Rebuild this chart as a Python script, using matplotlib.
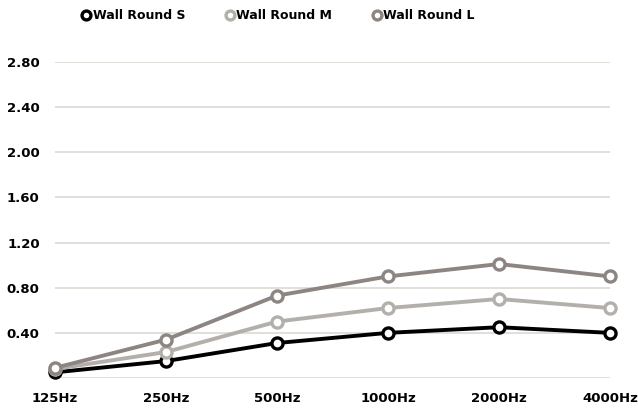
import matplotlib
matplotlib.use('Agg')
import matplotlib.pyplot as plt

# frequency bands and absorption values
freqs = ['125Hz', '250Hz', '500Hz', '1000Hz', '2000Hz', '4000Hz']
wall_s = [0.05, 0.15, 0.31, 0.40, 0.45, 0.40]
wall_m = [0.08, 0.23, 0.50, 0.62, 0.70, 0.62]
wall_l = [0.09, 0.34, 0.73, 0.90, 1.01, 0.90]
names = ['Wall Round S', 'Wall Round M', 'Wall Round L']
yticks = [0.40, 0.80, 1.20, 1.60, 2.00, 2.40, 2.80]

colors = ['#000000', '#b3afab', '#8d8582']

fig = plt.figure(figsize=(6.38, 4.08), dpi=100)
ax = fig.add_axes([55/638, 1-378/408, 555/638, (378-62)/408])

x = range(len(freqs))
for vals, c, name in zip([wall_s, wall_m, wall_l], colors, names):
    ax.plot(x, vals, color=c, lw=2.8, marker='o', ms=8, mfc='white',
            mec=c, mew=2.4, label=name, clip_on=False, zorder=3)

ax.set_xlim(0, len(freqs)-1)
ax.set_ylim(0, 2.8)
ax.set_yticks([0] + yticks)
ax.set_yticklabels([''] + ['%.2f' % v for v in yticks])
ax.set_xticks(list(x))
ax.set_xticklabels(freqs)
ax.grid(axis='y', color='#dcd9d3', lw=1.2)
ax.set_axisbelow(True)
for s in ax.spines.values():
    s.set_visible(False)
ax.tick_params(length=0, labelsize=9.5)
ax.tick_params(axis='y', pad=11)
ax.tick_params(axis='x', pad=10)
for t in ax.get_xticklabels() + ax.get_yticklabels():
    t.set_fontweight('bold')

leg = fig.legend(loc='upper center', bbox_to_anchor=(0.437, 1.005), ncol=3,
                 frameon=False, prop={'weight': 'bold', 'size': 9},
                 handlelength=0.6, handletextpad=0.2, columnspacing=3.3,
                 markerscale=0.8)
for h in leg.legend_handles:
    h.set_linestyle('none')

fig.savefig('out.png', dpi=100)
